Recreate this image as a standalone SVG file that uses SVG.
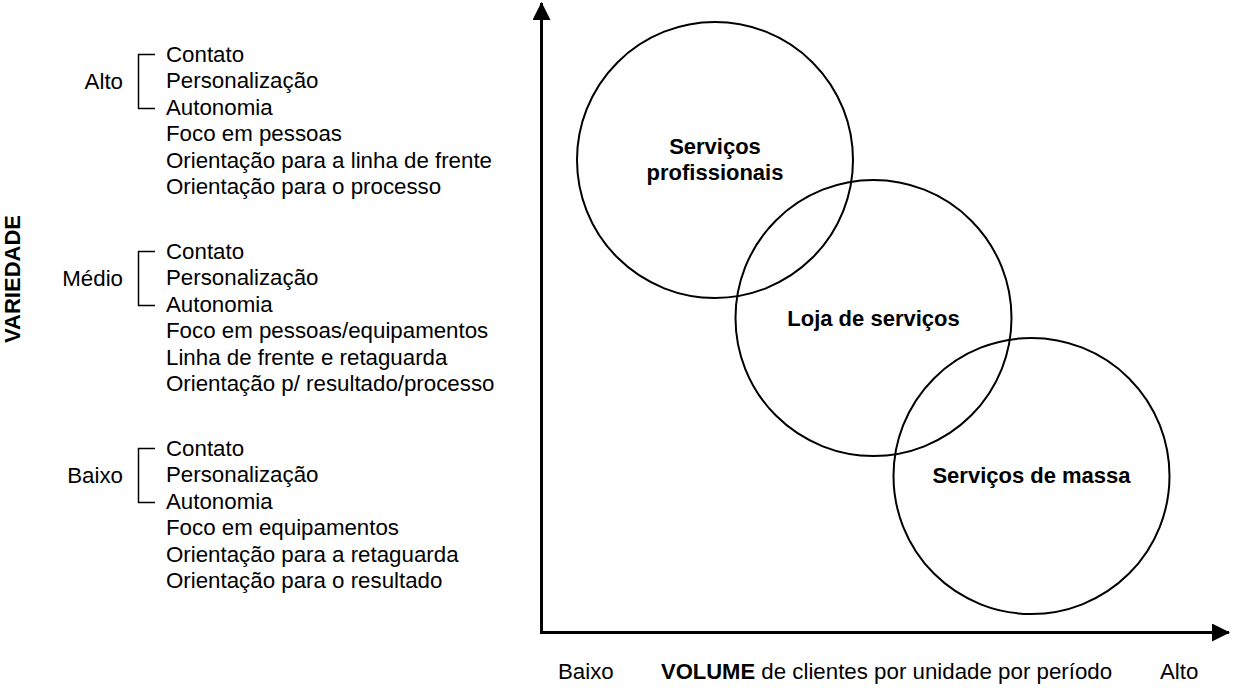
<svg xmlns="http://www.w3.org/2000/svg" width="1233" height="688" viewBox="0 0 1233 688">
<style>
text{font-family:"Liberation Sans",Arial,sans-serif;font-size:22.3px;fill:#000}
.b{font-weight:bold;font-size:22px}
.lvl{text-anchor:end}
.c{text-anchor:middle}
.br{fill:none;stroke:#000;stroke-width:1.5}
.circ{fill:none;stroke:#000;stroke-width:2}
.ax{stroke:#000;stroke-width:3;fill:none}
</style>
<defs>
<marker id="ah" viewBox="0 0 18 18" refX="17" refY="9" markerWidth="18" markerHeight="18" markerUnits="userSpaceOnUse" orient="auto">
<path d="M0,0 L18,9 L0,18 Z" fill="#000"/>
</marker>
</defs>
<g id="connectors">
<line class="ax" x1="541.5" y1="633" x2="541.5" y2="3" marker-end="url(#ah)"/>
<line class="ax" x1="540" y1="632.5" x2="1229" y2="632.5" marker-end="url(#ah)"/>
</g>
<g id="label-variedade">
<text class="b c" transform="translate(20,279) rotate(-90)">VARIEDADE</text>
</g>
<g id="group-alto">
<text class="lvl" x="123" y="88.5">Alto</text>
<path class="br" d="M155,54.5 H138.5 V108.5 H155"/>
<text x="166" y="61.5">Contato</text>
<text x="166" y="88">Personalização</text>
<text x="166" y="114.5">Autonomia</text>
<text x="166" y="141">Foco em pessoas</text>
<text x="166" y="167.5">Orientação para a linha de frente</text>
<text x="166" y="194">Orientação para o processo</text>
</g>
<g id="group-medio">
<text class="lvl" x="123" y="285.5">Médio</text>
<path class="br" d="M155,251.5 H138.5 V305.5 H155"/>
<text x="166" y="258.5">Contato</text>
<text x="166" y="285">Personalização</text>
<text x="166" y="311.5">Autonomia</text>
<text x="166" y="338">Foco em pessoas/equipamentos</text>
<text x="166" y="364.5">Linha de frente e retaguarda</text>
<text x="166" y="391">Orientação p/ resultado/processo</text>
</g>
<g id="group-baixo">
<text class="lvl" x="123" y="482.5">Baixo</text>
<path class="br" d="M155,448.5 H138.5 V502.5 H155"/>
<text x="166" y="455.5">Contato</text>
<text x="166" y="482">Personalização</text>
<text x="166" y="508.5">Autonomia</text>
<text x="166" y="535">Foco em equipamentos</text>
<text x="166" y="561.5">Orientação para a retaguarda</text>
<text x="166" y="588">Orientação para o resultado</text>
</g>
<g id="node-profissionais">
<circle class="circ" cx="715" cy="160" r="138"/>
<text class="b c" x="715" y="154">Serviços</text>
<text class="b c" x="715" y="180">profissionais</text>
</g>
<g id="node-loja">
<circle class="circ" cx="873.5" cy="318" r="138"/>
<text class="b c" x="873.5" y="326">Loja de serviços</text>
</g>
<g id="node-massa">
<circle class="circ" cx="1031.5" cy="476" r="138"/>
<text class="b c" x="1031.5" y="483">Serviços de massa</text>
</g>
<g id="x-labels">
<text x="558" y="679">Baixo</text>
<text x="661" y="679"><tspan class="b">VOLUME</tspan> de clientes por unidade por período</text>
<text x="1160" y="679">Alto</text>
</g>
</svg>
